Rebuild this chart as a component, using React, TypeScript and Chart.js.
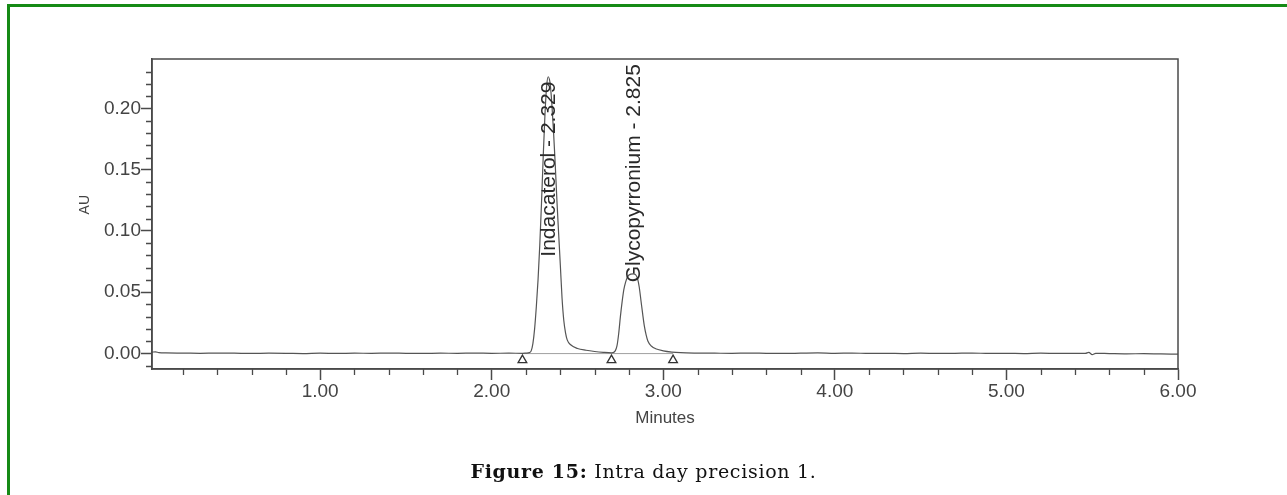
import React, { useEffect, useRef } from "react";
import { Chart, registerables } from "chart.js";

Chart.register(...registerables);

// Chromatogram trace: retention time (min) and absorbance (AU)
const retentionTime = [
  0.02, 0.04, 0.06, 0.1, 0.2, 0.3, 0.4, 0.5, 0.6, 0.7, 0.8, 0.9, 1.0, 1.1, 1.2, 1.3, 1.4, 1.5, 1.6, 1.7,
  1.8, 1.9, 2.0, 2.1, 2.18, 2.2, 2.22, 2.23, 2.24, 2.25, 2.26, 2.27, 2.28, 2.29, 2.3, 2.31, 2.32, 2.329,
  2.34, 2.35, 2.36, 2.37, 2.38, 2.39, 2.4, 2.41, 2.42, 2.43, 2.44, 2.46, 2.5, 2.55, 2.6, 2.65, 2.7, 2.72,
  2.73, 2.74, 2.75, 2.76, 2.77, 2.78, 2.79, 2.8, 2.825, 2.84, 2.85, 2.86, 2.87, 2.88, 2.89, 2.9, 2.91,
  2.93, 2.96, 3.0, 3.05, 3.1, 3.2, 3.3, 3.4, 3.5, 3.6, 3.7, 3.8, 3.9, 4.0, 4.1, 4.2, 4.3, 4.4, 4.5, 4.6,
  4.7, 4.8, 4.9, 5.0, 5.1, 5.2, 5.3, 5.4, 5.46, 5.48, 5.5, 5.52, 5.6, 5.7, 5.8, 5.9, 6.0,
];
const absorbance = [
  0.001, 0.0012, 0.0006, 0.0003, 0.0002, 0.0, 0.0002, 0.0001, -0.0001, 0.0001, 0.0, -0.0002, 0.0001,
  -0.0001, 0.0001, 0.0, 0.0002, 0.0, -0.0001, 0.0001, 0.0, 0.0002, 0.0, 0.0001, 0.0, 0.0002, 0.0006,
  0.002, 0.008, 0.02, 0.038, 0.06, 0.088, 0.122, 0.16, 0.194, 0.218, 0.226, 0.221, 0.205, 0.182, 0.155,
  0.125, 0.098, 0.072, 0.045, 0.027, 0.017, 0.011, 0.007, 0.004, 0.0025, 0.0015, 0.0008, 0.0004, 0.002,
  0.006, 0.016, 0.03, 0.042, 0.052, 0.058, 0.062, 0.064, 0.065, 0.064, 0.061, 0.054, 0.043, 0.032,
  0.022, 0.015, 0.01, 0.006, 0.0035, 0.002, 0.001, 0.0005, 0.0002, 0.0001, 0.0, 0.0002, 0.0, -0.0001,
  0.0001, 0.0003, 0.0, 0.0002, -0.0001, 0.0, -0.0002, 0.0001, -0.0001, 0.0, 0.0002, -0.0001, 0.0,
  -0.0002, 0.0001, -0.0001, 0.0, -0.0001, 0.0008, -0.001, 0.0, -0.0002, -0.0004, -0.0003, -0.0005,
  -0.0006,
];

const peakNames = ["Indacaterol", "Glycopyrronium"];
const peakTimes = [2.329, 2.825];
const peakLabelAU = [0.079, 0.058];

const markerTimes = [2.179, 2.698, 3.057];
const markerAU = [-0.0055, -0.0055, -0.0055];

const integrationTimes = [2.179, 3.057];
const integrationAU = [-0.0002, -0.0002];

const xTickValues = [1, 2, 3, 4, 5, 6];
const yTickValues = [0, 0.05, 0.1, 0.15, 0.2];
const xMinorTicks = [
  0.2, 0.4, 0.6, 0.8, 1.2, 1.4, 1.6, 1.8, 2.2, 2.4, 2.6, 2.8, 3.2, 3.4, 3.6, 3.8, 4.2, 4.4, 4.6, 4.8,
  5.2, 5.4, 5.6, 5.8,
];
const yMinorTicks = [
  -0.01, 0.01, 0.02, 0.03, 0.04, 0.06, 0.07, 0.08, 0.09, 0.11, 0.12, 0.13, 0.14, 0.16, 0.17, 0.18,
  0.19, 0.21, 0.22, 0.23,
];

const xTitle = "Minutes";
const yTitle = "AU";

const X_MIN = 0.02;
const X_MAX = 6.0;
const Y_MIN = -0.0128;
const Y_MAX = 0.2405;

const AXIS_COLOR = "#4a4a4a";
const TEXT_COLOR = "#444";
const SANS = "'Liberation Sans', Arial, sans-serif";

const decorPlugin = {
  id: "decor",
  afterDatasetsDraw(chart: any) {
    const { ctx, chartArea, scales } = chart;
    const xs = scales.x;
    const ys = scales.y;
    ctx.save();
    // frame
    ctx.strokeStyle = AXIS_COLOR;
    ctx.lineWidth = 1.5;
    ctx.strokeRect(chartArea.left, chartArea.top, chartArea.right - chartArea.left, chartArea.bottom - chartArea.top);
    // minor ticks
    ctx.lineWidth = 1.3;
    ctx.beginPath();
    xMinorTicks.forEach((v) => {
      const px = Math.round(xs.getPixelForValue(v)) + 0.5;
      ctx.moveTo(px, chartArea.bottom);
      ctx.lineTo(px, chartArea.bottom + 6);
    });
    yMinorTicks.forEach((v) => {
      const py = Math.round(ys.getPixelForValue(v)) + 0.5;
      ctx.moveTo(chartArea.left, py);
      ctx.lineTo(chartArea.left - 6, py);
    });
    ctx.stroke();
    // y axis title
    ctx.fillStyle = TEXT_COLOR;
    ctx.font = `14px ${SANS}`;
    ctx.textAlign = "center";
    ctx.textBaseline = "middle";
    ctx.save();
    ctx.translate(chartArea.left - 67, chartArea.top + (chartArea.bottom - chartArea.top) * 0.47);
    ctx.rotate(-Math.PI / 2);
    ctx.fillText(yTitle, 0, 0);
    ctx.restore();
    // peak labels
    ctx.fillStyle = "#2a2a2a";
    ctx.font = `21px ${SANS}`;
    ctx.textAlign = "left";
    ctx.textBaseline = "middle";
    peakNames.forEach((name, i) => {
      const px = xs.getPixelForValue(peakTimes[i]);
      const py = ys.getPixelForValue(peakLabelAU[i]);
      ctx.save();
      ctx.translate(px, py);
      ctx.rotate(-Math.PI / 2);
      ctx.fillText(`${name} - ${peakTimes[i].toFixed(3)}`, 0, 1);
      ctx.restore();
    });
    ctx.restore();
  },
};

export default function App() {
  const canvasRef = useRef<HTMLCanvasElement | null>(null);

  useEffect(() => {
    if (!canvasRef.current) return;
    const trace = retentionTime.map((t, i) => ({ x: t, y: absorbance[i] }));
    const markers = markerTimes.map((t, i) => ({ x: t, y: markerAU[i] }));
    const integration = integrationTimes.map((t, i) => ({ x: t, y: integrationAU[i] }));

    const chart = new Chart(canvasRef.current, {
      type: "line",
      data: {
        datasets: [
          {
            data: markers,
            showLine: false,
            pointStyle: "triangle",
            pointRadius: 5,
            pointBackgroundColor: "#ffffff",
            pointBorderColor: "#333",
            pointBorderWidth: 1.3,
            order: 0,
          },
          {
            data: trace,
            borderColor: "#555",
            borderWidth: 1.2,
            pointRadius: 0,
            cubicInterpolationMode: "monotone",
            fill: false,
            order: 1,
          },
          {
            data: integration,
            borderColor: "#a0a0a0",
            borderWidth: 1,
            pointRadius: 0,
            fill: false,
            order: 2,
          },
        ],
      } as any,
      plugins: [decorPlugin],
      options: {
        responsive: false,
        animation: false,
        events: [],
        layout: { padding: { left: 0, top: 59, right: 109, bottom: 0 } },
        plugins: { legend: { display: false }, tooltip: { enabled: false } },
        scales: {
          x: {
            type: "linear",
            min: X_MIN,
            max: X_MAX,
            afterBuildTicks: (scale: any) => {
              scale.ticks = xTickValues.map((v) => ({ value: v }));
            },
            afterFit: (scale: any) => {
              scale.height = 126;
            },
            grid: {
              drawOnChartArea: false,
              drawTicks: true,
              tickLength: 11,
              tickColor: AXIS_COLOR,
              tickWidth: 1.5,
            },
            border: { display: true, color: AXIS_COLOR, width: 1.5 },
            ticks: {
              color: TEXT_COLOR,
              font: { family: SANS, size: 19, lineHeight: 1 },
              padding: 2,
              maxRotation: 0,
              autoSkip: false,
              callback: (v: any) => Number(v).toFixed(2),
            },
            title: {
              display: true,
              text: xTitle,
              color: TEXT_COLOR,
              font: { family: SANS, size: 17, lineHeight: 1.2 },
              padding: { top: 0, bottom: 66 },
            },
          },
          y: {
            type: "linear",
            min: Y_MIN,
            max: Y_MAX,
            afterBuildTicks: (scale: any) => {
              scale.ticks = yTickValues.map((v) => ({ value: v }));
            },
            afterFit: (scale: any) => {
              scale.width = 152;
            },
            grid: {
              drawOnChartArea: false,
              drawTicks: true,
              tickLength: 11,
              tickColor: AXIS_COLOR,
              tickWidth: 1.5,
            },
            border: { display: true, color: AXIS_COLOR, width: 1.5 },
            ticks: {
              color: TEXT_COLOR,
              font: { family: SANS, size: 19, lineHeight: 1 },
              padding: 0,
              autoSkip: false,
              callback: (v: any) => Number(v).toFixed(2),
            },
            title: { display: false },
          },
        },
      } as any,
    });
    return () => chart.destroy();
  }, []);

  return (
    <div style={{ position: "fixed", left: 0, top: 0, width: 1287, height: 495, overflow: "hidden", background: "#fff" }}>
      <div
        style={{
          position: "absolute",
          left: 7,
          top: 4,
          width: 1320,
          height: 540,
          border: "3px solid #168a16",
          boxSizing: "border-box",
        }}
      />
      <canvas ref={canvasRef} width={1287} height={495} style={{ position: "absolute", left: 0, top: 0 }} />
      <div
        style={{
          position: "absolute",
          left: 0,
          top: 460,
          width: 1287,
          textAlign: "center",
          fontFamily: "'DejaVu Serif', serif",
          fontSize: 19,
          letterSpacing: "0.7px",
          lineHeight: "22px",
          color: "#111",
        }}
      >
        <b>Figure 15:</b> Intra day precision 1.
      </div>
    </div>
  );
}
